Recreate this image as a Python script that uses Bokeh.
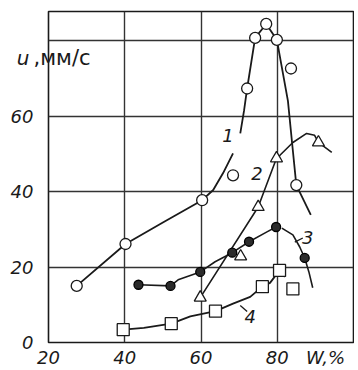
import math
from bokeh.plotting import figure
from bokeh.models import FixedTicker, Range1d, LinearAxis
from bokeh.embed import file_html
from bokeh.resources import INLINE

NaN = float("nan")

# ---- data ----
# curve 1 (open circles)
c1_w = [27.4, 40.2, 60.3, 68.4, 72.1, 74.2, 77.1, 79.9, 83.6, 85.0]
c1_u = [15.0, 26.1, 37.7, 44.3, 67.3, 80.7, 84.4, 80.2, 72.6, 41.7]
c1_line_w = [27.4, 40.2, 50.0, 60.3, 63.2, 65.8, 68.4, NaN, 70.3, 71.3, 72.1, 74.2, 77.1, 79.9, 82.8, 83.9, 85.0, 88.8]
c1_line_u = [15.0, 26.1, 31.8, 37.7, 40.4, 44.9, 50.1, NaN, 55.4, 61.5, 67.3, 80.7, 84.4, 80.2, 64.0, 52.8, 41.7, 33.8]

# curve 2 (open triangles)
c2_w = [59.8, 70.4, 75.0, 79.8, 90.8]
c2_u = [11.9, 22.8, 35.9, 48.8, 53.0]
c2_line_w = [59.8, 75.0, 79.8, 80.7, 84.1, 87.7, 89.8, 90.8, 94.3]
c2_line_u = [11.9, 35.9, 48.8, 49.6, 53.0, 55.4, 54.9, 53.0, 50.4]

# curve 3 (dark circles)
c3_w = [43.6, 52.0, 59.8, 68.2, 72.6, 79.7, 87.2]
c3_u = [15.3, 15.0, 18.7, 23.8, 26.7, 30.6, 22.4]
c3_line_w = [43.6, 52.0, 54.0, 59.8, 63.7, 68.2, 72.6, 77.3, 79.7, NaN, 81.2, 84.1, 85.9, 87.2, 88.3, 89.3]
c3_line_u = [15.3, 15.0, 16.6, 18.7, 21.4, 23.8, 26.7, 29.3, 30.6, NaN, 30.3, 28.5, 25.3, 22.4, 18.7, 14.5]

# curve 4 (open squares)
c4_w = [39.6, 52.2, 63.8, 76.1, 80.6, 84.1]
c4_u = [3.4, 5.0, 8.3, 14.8, 19.1, 14.2]
c4_line_w = [39.6, 45.0, 52.2, 57.2, 63.8, 68.4, 72.9, 76.1, 78.1, 80.6, 82.0]
c4_line_u = [3.4, 3.9, 5.0, 6.9, 8.3, 10.3, 12.1, 14.8, 15.8, 19.1, 17.4]

# curve numbers and their positions
curve_names = ["1", "2", "3", "4"]
name_w = [67.1, 74.7, 88.0, 72.9]
name_u = [54.9, 44.9, 27.7, 6.9]
leader_w0 = [84.6, 70.3]
leader_u0 = [26.6, 9.8]
leader_w1 = [86.7, 72.1]
leader_u1 = [27.7, 8.2]

x_ticks = [20, 40, 60, 80]
x_unit_at = 92.65          # where the "W,%" unit sits on the x axis
x_unit_text = "W,%"
y_ticks = [0, 20, 40, 60, 80]
y_unit_at = 75.5           # height of the "u, мм/с" title
y_sym_text = "u"
y_unit_text = ",мм/с"

FONT = "DejaVu Sans"
INK = "#1a1a1a"

p = figure(width=354, height=370, output_backend="svg", toolbar_location=None,
           x_range=Range1d(20, 100), y_range=Range1d(0, 87.7),
           min_border_left=48, min_border_right=1, min_border_top=11, min_border_bottom=25)
p.background_fill_color = "white"
p.border_fill_color = "white"
p.outline_line_color = INK
p.outline_line_width = 1.6


def style_axis(ax, size="18px", italic=True):
    ax.axis_line_color = None
    ax.major_tick_line_color = None
    ax.minor_tick_line_color = None
    ax.major_tick_in = 0
    ax.major_tick_out = 0
    ax.minor_tick_in = 0
    ax.minor_tick_out = 0
    ax.major_label_text_font = FONT
    ax.major_label_text_font_style = "italic" if italic else "normal"
    ax.major_label_text_font_size = size
    ax.major_label_text_color = INK


num_ax = p.yaxis[0]
p.xaxis.ticker = FixedTicker(ticks=x_ticks + [x_unit_at])
p.xaxis.major_label_overrides = {x_unit_at: x_unit_text}
num_ax.ticker = FixedTicker(ticks=y_ticks)
num_ax.major_label_overrides = {80: ""}
style_axis(p.xaxis[0])
style_axis(num_ax)
p.xaxis.major_label_standoff = 4
num_ax.major_label_standoff = -20

# y title "u, мм/с": two extra left axes stacked next to the frame
ax_m = LinearAxis(ticker=FixedTicker(ticks=[y_unit_at]),
                  major_label_overrides={y_unit_at: y_unit_text},
                  major_label_standoff=-42)
style_axis(ax_m, size="21px", italic=False)
ax_u = LinearAxis(ticker=FixedTicker(ticks=[y_unit_at]),
                  major_label_overrides={y_unit_at: y_sym_text},
                  major_label_standoff=1)
style_axis(ax_u, size="20px", italic=True)
p.left = [ax_m, ax_u, num_ax]

p.xgrid.ticker = FixedTicker(ticks=x_ticks)
p.ygrid.ticker = FixedTicker(ticks=y_ticks)
p.xgrid.grid_line_color = "#333333"
p.ygrid.grid_line_color = "#333333"
p.xgrid.grid_line_width = 1.4
p.ygrid.grid_line_width = 1.4

# lines
p.line(c1_line_w, c1_line_u, line_color=INK, line_width=1.8)
p.line(c2_line_w, c2_line_u, line_color=INK, line_width=1.6)
p.line(c3_line_w, c3_line_u, line_color=INK, line_width=1.6)
p.line(c4_line_w, c4_line_u, line_color=INK, line_width=1.8)
p.segment(leader_w0, leader_u0, leader_w1, leader_u1, line_color=INK, line_width=1.3)

# markers
p.scatter(c1_w, c1_u, marker="circle", size=11, fill_color="white", line_color=INK, line_width=1.3)
p.scatter(c2_w, c2_u, marker="triangle", size=12, fill_color="white", line_color=INK, line_width=1.3)
p.scatter(c3_w, c3_u, marker="circle", size=9, fill_color="#2b2b2b", line_color="black", line_width=1.3)
p.scatter(c4_w, c4_u, marker="square", size=12, fill_color="white", line_color=INK, line_width=1.3)

p.text(name_w, name_u, text=curve_names, text_font_size="18px", text_font_style="italic",
       text_color=INK, text_align="center", text_baseline="middle",
       text_font={"value": FONT})

open("out.html", "w").write(file_html(p, INLINE))
